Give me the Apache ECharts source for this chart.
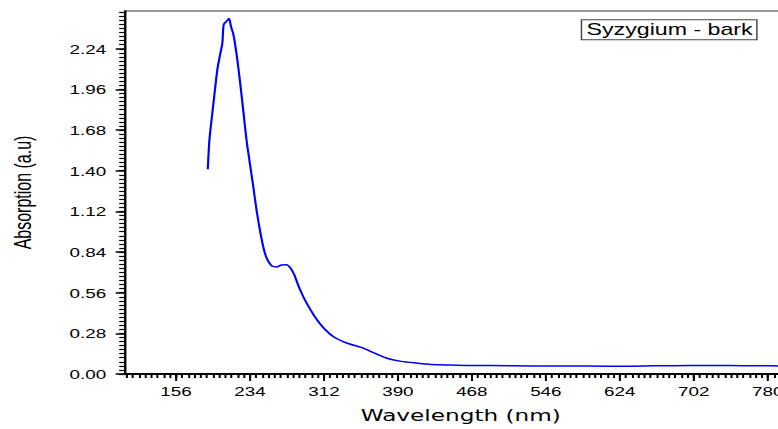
<!DOCTYPE html>
<html>
<head>
<meta charset="utf-8">
<script src="https://cdn.jsdelivr.net/npm/echarts@6/dist/echarts.min.js"></script>
<style>
  html, body { margin: 0; padding: 0; overflow: hidden; background: #fff; }
  /* the reference looks stretched sideways, so the chart is drawn narrow and scaled */
  #chart { width: 552px; height: 429px; transform: scaleX(1.45); transform-origin: 0 0; }
</style>
</head>
<body>
<div id="chart"></div>
<script>
// wavelength (nm) and absorption (a.u)
var wavelength = [
  189.6, 191, 192.7, 195.5, 198, 200, 203, 205, 206.4, 209.5,
  212, 214, 216.6, 220, 223.5, 227, 230.5, 234, 237.6, 241,
  244.5, 248, 251.6, 256.8, 262, 267.3, 272.6, 277, 281, 285,
  289, 293.6, 302, 313, 323.4, 337.4, 351.4, 365.4, 379.5, 393.5,
  410, 425, 445, 467, 510, 551, 590, 628, 660, 698,
  740, 768, 800
];
var absorption = [
  1.41, 1.586, 1.70, 1.86, 2.007, 2.11, 2.213, 2.281, 2.407, 2.43,
  2.448, 2.395, 2.339, 2.20, 2.019, 1.814, 1.608, 1.449, 1.289, 1.129,
  0.992, 0.878, 0.799, 0.746, 0.737, 0.751, 0.753, 0.728, 0.68, 0.61,
  0.55, 0.49, 0.399, 0.308, 0.251, 0.210, 0.183, 0.144, 0.107, 0.087,
  0.075, 0.066, 0.062, 0.059, 0.057, 0.055, 0.055, 0.053, 0.056, 0.059,
  0.058, 0.057, 0.055
];
var xTicks = [156, 234, 312, 390, 468, 546, 624, 702, 780];
var yTicks = [0, 0.28, 0.56, 0.84, 1.12, 1.40, 1.68, 1.96, 2.24];
var seriesName = "Syzygium - bark";

var xMin = 102, xMax = 800, yMin = 0, yMax = 2.5;

// minor tick positions (12 steps per x interval, 10 per y interval)
var xMinor = [];
var xStep = (xTicks[1] - xTicks[0]) / 12;
for (var v = xTicks[0]; v > xMin; v -= xStep) xMinor.push(v);
for (var v = xTicks[0]; v < xMax; v += xStep) xMinor.push(v);
var yMinor = [];
var yStep = (yTicks[1] - yTicks[0]) / 10;
for (var i = 0; i * yStep <= yMax; i++) yMinor.push(i * yStep);

var points = wavelength.map(function (w, i) { return [w, absorption[i]]; });

var myChart = echarts.init(document.getElementById("chart"), null, { renderer: "svg" });
var font = "Liberation Sans, Arial, sans-serif";

var option = {
  animation: false,
  title: {
    text: seriesName,
    left: 400.5,
    top: 19.3,
    padding: [2, 3, 2, 4],
    borderWidth: 1,
    borderColor: "#444",
    textStyle: { fontFamily: font, fontSize: 16, fontWeight: "normal", color: "#000", lineHeight: 17 },
  },
  grid: {
    left: 84.6, right: 9.4, top: 11, bottom: 54,
    show: true, borderColor: "#333", borderWidth: 1,
  },
  xAxis: [
    {
      type: "value", min: xMin, max: xMax, position: "bottom",
      name: "Wavelength (nm)", nameLocation: "middle", nameGap: 34,
      nameTextStyle: { fontFamily: "DejaVu Sans", fontSize: 16, color: "#000", padding: [0, 0, 0, 7] },
      axisLine: { onZero: false, lineStyle: { color: "#000", width: 2 } },
      axisTick: { customValues: xTicks, length: 7, lineStyle: { color: "#000", width: 1.4 } },
      axisLabel: { customValues: xTicks, margin: 11, fontFamily: font, fontSize: 13, color: "#000" },
      splitLine: { show: false },
    },
    {
      type: "value", min: xMin, max: xMax, position: "bottom",
      axisLine: { show: false },
      axisTick: { customValues: xMinor, length: 4, lineStyle: { color: "#000", width: 1.4 } },
      axisLabel: { show: false },
      splitLine: { show: false },
    },
  ],
  yAxis: [
    {
      type: "value", min: yMin, max: yMax, position: "left",
      name: "Absorption (a.u)", nameLocation: "middle", nameGap: 62,
      nameTextStyle: { fontFamily: font, fontSize: 16, color: "#000" },
      axisLine: { onZero: false, lineStyle: { color: "#000", width: 1.4 } },
      axisTick: { customValues: yTicks, length: 6.2, lineStyle: { color: "#000", width: 1.5 } },
      axisLabel: {
        customValues: yTicks, margin: 12.7, fontFamily: font, fontSize: 13, color: "#000",
        formatter: function (val) { return val.toFixed(2); },
      },
      splitLine: { show: false },
    },
    {
      type: "value", min: yMin, max: yMax, position: "left",
      axisLine: { show: false },
      axisTick: { customValues: yMinor, length: 3.8, lineStyle: { color: "#000", width: 1.2 } },
      axisLabel: { show: false },
      splitLine: { show: false },
    },
  ],
  series: [
    {
      name: seriesName,
      type: "line",
      xAxisIndex: 0,
      yAxisIndex: 0,
      data: points,
      smooth: 0.25,
      showSymbol: false,
      lineStyle: { color: "#0000ff", width: 1.5 },
    },
  ],
};
myChart.setOption(option);
</script>
</body>
</html>
